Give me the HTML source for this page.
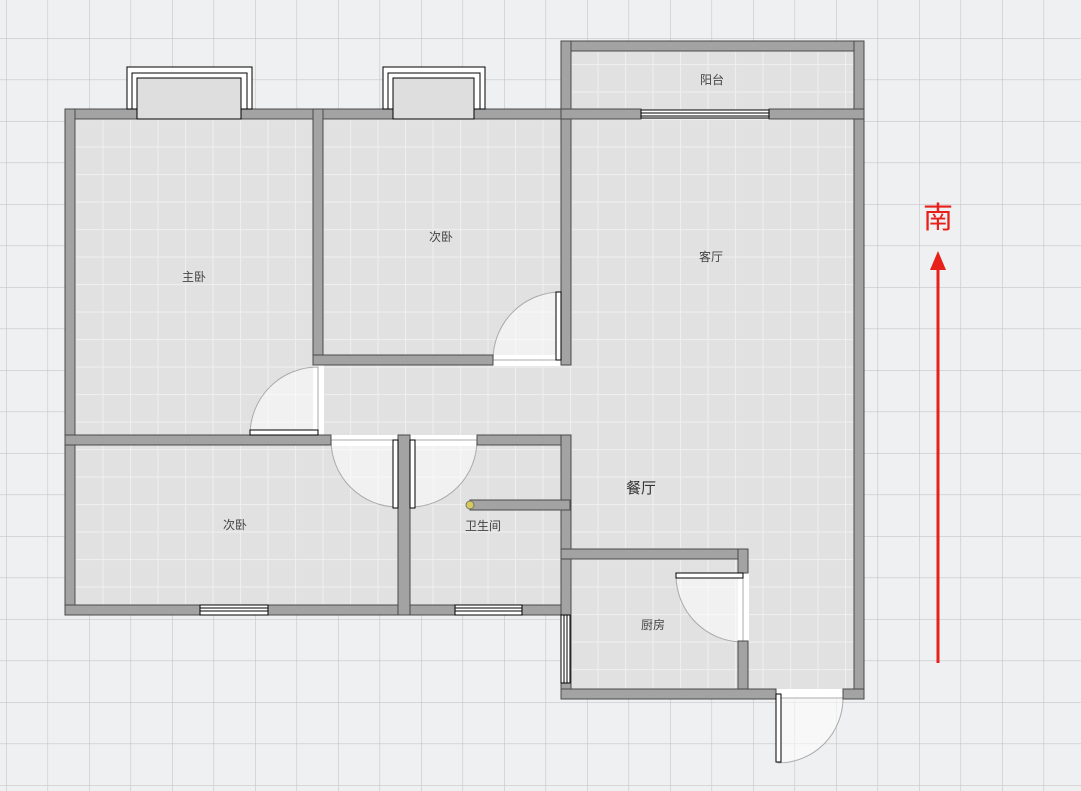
<!DOCTYPE html>
<html><head><meta charset="utf-8"><style>
html,body{margin:0;padding:0;background:#eff0f2;}
svg{display:block}
text{font-family:"Liberation Sans","Noto Sans CJK SC",sans-serif;fill:#444;}
</style></head><body>
<svg width="1081" height="791" viewBox="0 0 1081 791" xmlns="http://www.w3.org/2000/svg">
<defs>
<pattern id="g" x="6" y="38" width="41.5" height="41.5" patternUnits="userSpaceOnUse">
<path d="M0 0H41.5M0 0V41.5" stroke="#c6c6c8" stroke-width="1.2" fill="none"/>
</pattern>
<pattern id="t" x="75" y="119" width="27.5" height="27.5" patternUnits="userSpaceOnUse">
<rect width="27.5" height="27.5" fill="#e1e1e1"/>
<path d="M0 0.5H27.5M0.5 0V27.5" stroke="#eeeeee" stroke-width="1.2" fill="none"/>
</pattern>
</defs>
<rect width="1081" height="791" fill="#eff0f2"/>
<rect width="1081" height="791" fill="url(#g)"/>
<g fill="url(#t)">
<rect x="65" y="109" width="505" height="506"/>
<rect x="561" y="41" width="303" height="657"/>
<rect x="561" y="548" width="187" height="150"/>
</g>
<g fill="#fff">
<rect x="313" y="365" width="11" height="70"/>
<rect x="493" y="355" width="68" height="11"/>
<rect x="331" y="435" width="146" height="11"/>
<rect x="738" y="573" width="11" height="68"/>
<rect x="776" y="689" width="67" height="10"/>
</g>
<g fill="rgba(255,255,255,0.55)" stroke="#aaa" stroke-width="1">
<path d="M318 435 L250 435 A68 68 0 0 1 318 367 Z"/>
<path d="M561 360 L561 292 A68 68 0 0 0 493 360 Z"/>
<path d="M398 440 L331 440 A67 67 0 0 0 398 507 Z"/>
<path d="M410 440 L477 440 A67 67 0 0 1 410 507 Z"/>
<path d="M743 575 L676 575 A67 67 0 0 0 743 642 Z"/>
<path d="M778 698 L843 698 A65 65 0 0 1 778 763 Z"/>
</g>
<g fill="#a3a3a3" stroke="#4a4a4a" stroke-width="1">
<rect x="65" y="109" width="505" height="10"/>
<rect x="65" y="109" width="10" height="506"/>
<rect x="65" y="605" width="505" height="10"/>
<rect x="313" y="109" width="10" height="256"/>
<rect x="313" y="355" width="180" height="10"/>
<rect x="561" y="41" width="303" height="10"/>
<rect x="561" y="41" width="10" height="324"/>
<rect x="854" y="41" width="10" height="658"/>
<rect x="561" y="109" width="80" height="10"/>
<rect x="769" y="109" width="95" height="10"/>
<rect x="65" y="435" width="266" height="10"/>
<rect x="477" y="435" width="93" height="10"/>
<rect x="398" y="435" width="12" height="180"/>
<rect x="561" y="435" width="10" height="264"/>
<rect x="470" y="500" width="100" height="10"/>
<rect x="561" y="549" width="187" height="10"/>
<rect x="738" y="549" width="10" height="24"/>
<rect x="738" y="641" width="10" height="58"/>
<rect x="561" y="689" width="215" height="10"/>
<rect x="843" y="689" width="21" height="10"/>
</g>
<circle cx="470" cy="505" r="4" fill="#d8c860" stroke="#776" stroke-width="1"/>
<g fill="#fff" stroke="#000" stroke-width="1">
<rect x="127" y="67" width="125" height="42"/>
<rect x="132" y="73" width="115" height="36"/>
<rect x="383" y="67" width="102" height="42"/>
<rect x="388" y="73" width="92" height="36"/>
<rect x="641" y="110" width="128" height="8"/>
<rect x="641" y="113" width="128" height="3"/>
<rect x="200" y="605" width="68" height="10"/>
<rect x="200" y="608" width="68" height="3"/>
<rect x="455" y="605" width="67" height="10"/>
<rect x="455" y="608" width="67" height="3"/>
<rect x="561" y="615" width="9" height="68"/>
<rect x="564" y="615" width="3" height="68"/>
<rect x="250" y="430" width="68" height="5"/>
<rect x="556" y="292" width="5" height="68"/>
<rect x="393" y="440" width="5" height="68"/>
<rect x="410" y="440" width="5" height="68"/>
<rect x="676" y="573" width="67" height="5"/>
<rect x="776" y="694" width="5" height="68"/>
</g>
<g fill="#dedede" stroke="#000" stroke-width="1">
<rect x="137" y="78" width="104" height="41"/>
<rect x="393" y="78" width="81" height="41"/>
</g>
<g font-size="12" text-anchor="middle">
<text x="712" y="84">阳台</text>
<text x="441" y="241">次卧</text>
<text x="711" y="261">客厅</text>
<text x="194" y="281">主卧</text>
<text x="483" y="530">卫生间</text>
<text x="235" y="529">次卧</text>
<text x="653" y="629">厨房</text>
<text x="641" y="493" font-size="15" style="fill:#333">餐厅</text>
</g>
<text x="938" y="228" font-size="30" text-anchor="middle" style="fill:#e8201a">南</text>
<path d="M936.5 663 L936.5 268 L939.5 268 L939.5 663 Z" fill="#e8201a"/>
<path d="M930 270 L938 251 L946 270 Z" fill="#e8201a"/>
</svg>
</body></html>
